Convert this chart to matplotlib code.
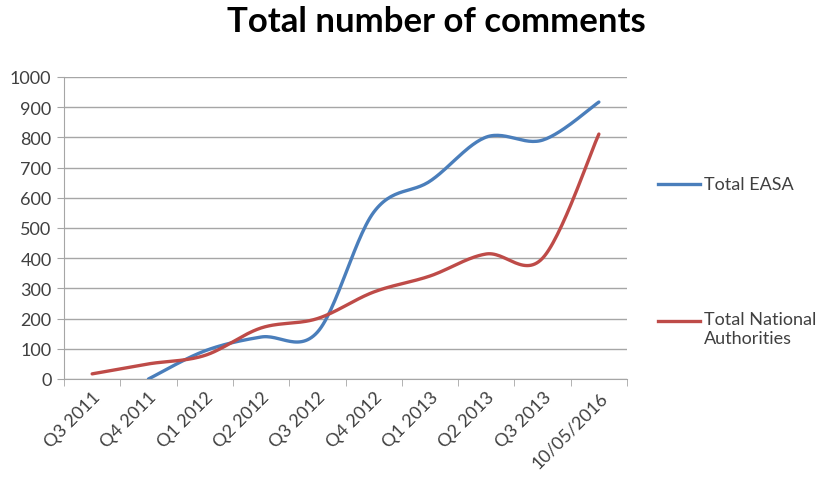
import numpy as np
import matplotlib.pyplot as plt
from matplotlib.lines import Line2D

categories = ["Q3 2011", "Q4 2011", "Q1 2012", "Q2 2012", "Q3 2012",
              "Q4 2012", "Q1 2013", "Q2 2013", "Q3 2013", "10/05/2016"]
# EASA starts in Q4 2011
easa = [None, 0, 93, 139, 155, 552, 655, 801, 791, 917]
national = [17, 50, 78, 169, 200, 288, 341, 414, 400, 811]

BLUE = "#4A7EBB"
RED = "#BE4B48"
GRAY = "#A6A6A6"
TXT = "#404040"

plt.rcParams['font.family'] = ['Lato', 'DejaVu Sans']


def smooth(xs, ys, n=30):
    # Excel-like smoothed line (Catmull-Rom bezier segments)
    xs = np.asarray(xs, float)
    ys = np.asarray(ys, float)
    px, py = [], []
    for i in range(len(xs) - 1):
        i0, i3 = max(i - 1, 0), min(i + 2, len(xs) - 1)
        p0 = np.array([xs[i], ys[i]])
        p3 = np.array([xs[i + 1], ys[i + 1]])
        c1 = p0 + (np.array([xs[i + 1], ys[i + 1]]) - np.array([xs[i0], ys[i0]])) / 6
        c2 = p3 - (np.array([xs[i3], ys[i3]]) - np.array([xs[i], ys[i]])) / 6
        t = np.linspace(0, 1, n)[:, None]
        seg = ((1 - t) ** 3) * p0 + 3 * ((1 - t) ** 2) * t * c1 + 3 * (1 - t) * t ** 2 * c2 + t ** 3 * p3
        px.extend(seg[:, 0])
        py.extend(seg[:, 1])
    return px, py


fig = plt.figure(figsize=(8.27, 4.85), dpi=100)
ax = fig.add_axes([0.0774, 0.2165, 0.6808, 0.6227])

x = np.arange(len(categories))
ex = [i for i, v in zip(x, easa) if v is not None]
ey = [v for v in easa if v is not None]
sx, sy = smooth(ex, ey)
ax.plot(sx, sy, color=BLUE, lw=2.4, solid_capstyle='round', zorder=3)
sx, sy = smooth(x, national)
ax.plot(sx, sy, color=RED, lw=2.4, solid_capstyle='round', zorder=3)

ax.set_xlim(-0.5, len(categories) - 0.5)
ax.set_ylim(0, 1000)
ax.set_yticks(range(0, 1001, 100))
ax.yaxis.grid(True, color=GRAY, lw=1)
ax.set_axisbelow(True)

ax.set_xticks(x)
ax.set_xticklabels(categories, rotation=45, ha='right', rotation_mode='anchor',
                   fontsize=13, color=TXT)
ax.set_xticks(np.arange(-0.5, len(categories)), minor=True)
ax.tick_params(axis='x', which='major', length=0, pad=7)
ax.tick_params(axis='x', which='minor', length=5, color=GRAY)
ax.tick_params(axis='y', length=5, color=GRAY, labelsize=13, labelcolor=TXT, pad=4)

for s in ['top', 'right']:
    ax.spines[s].set_visible(False)
for s in ['left', 'bottom']:
    ax.spines[s].set_color(GRAY)

fig.text(436 / 827, 0.955, "Total number of comments", ha='center', va='center',
         fontsize=25, fontweight='bold', color='black')

# legend on the right
fig.add_artist(Line2D([658 / 827, 700 / 827], [1 - 185 / 485] * 2, color=BLUE, lw=2.4,
                      transform=fig.transFigure))
fig.text(704 / 827, 1 - 185 / 485, "Total EASA", va='center', fontsize=13, color=TXT)
fig.add_artist(Line2D([658 / 827, 700 / 827], [1 - 322 / 485] * 2, color=RED, lw=2.4,
                      transform=fig.transFigure))
fig.text(704 / 827, 1 - 312 / 485, "Total National\nAuthorities", va='top',
         fontsize=13, color=TXT, linespacing=1.2)

plt.savefig("out.png", dpi=100)
